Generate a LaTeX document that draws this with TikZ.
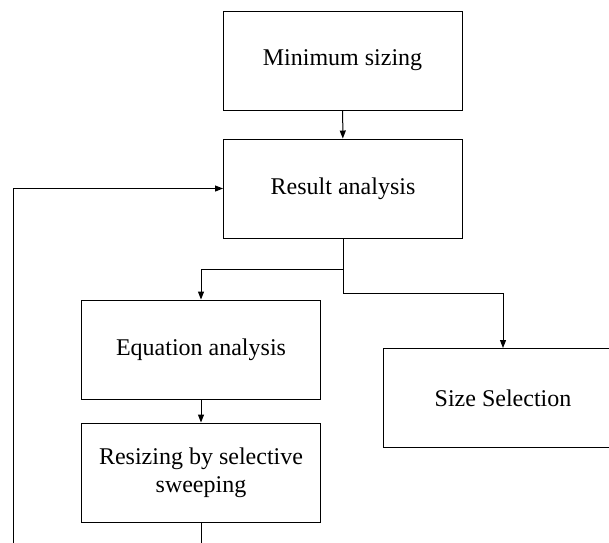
\documentclass[tikz,border=0pt]{standalone}
\usepackage{fontspec}
\setmainfont{Liberation Serif}
\usetikzlibrary{arrows.meta}

\tikzset{
  stage/.style={draw, line width=0.5pt, minimum width=119.5pt, minimum height=49.5pt,
    inner sep=0pt, align=center, font=\fontsize{12}{14}\selectfont},
  flow/.style={line width=0.5pt, -{Triangle[length=4pt,width=3pt]}}
}

\begin{document}
\begin{tikzpicture}[x=0.5pt, y=-0.5pt]

    \useasboundingbox (0,0) rectangle (609,542);
    \clip (0,0) rectangle (609,542);

    % Stages
    \node[stage] (minsize) at (342.5,60.5) {Minimum sizing};
    \node[stage] (result) at (343,188.5) {Result analysis};
    \node[stage] (equation) at (201,349.5) {Equation analysis};
    \node[stage] (resize) at (201,472.5) {Resizing by selective\\sweeping};
    \node[stage] (select) at (503,398) {Size Selection};

    % Feedback corner
    \coordinate (loop) at (13,580);

    % Connectors
    \draw[flow] (minsize) -- (result);
    \draw[flow] (result.south) -- ++(0,31) -| (equation.north);
    \draw[flow] (result.south) -- ++(0,55) -| (select.north);
    \draw[flow] (equation) -- (resize);
    \draw[flow] (resize.south) |- (loop) |- (result.west);

\end{tikzpicture}
\end{document}
